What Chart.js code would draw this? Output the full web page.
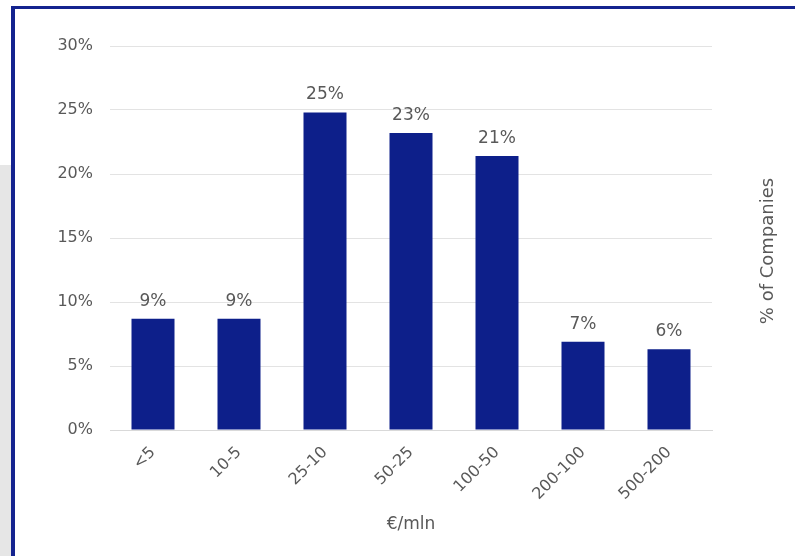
<!DOCTYPE html>
<html>
<head>
<meta charset="utf-8">
<script src="https://cdn.jsdelivr.net/npm/chart.js@4/dist/chart.umd.min.js"></script>
<style>
  html, body { margin: 0; padding: 0; background: #ffffff; }
  body { width: 795px; height: 556px; position: relative; overflow: hidden; }
  #grey { position: absolute; left: 0; top: 165px; width: 11px; height: 391px; background: #e6e6e6; }
  #frame { position: absolute; left: 11px; top: 6px; width: 800px; height: 560px;
           border-left: 4px solid #14238f; border-top: 3px solid #14238f; box-sizing: border-box; }
  #wrap { position: absolute; left: 0; top: 0; width: 795px; height: 556px; }
</style>
</head>
<body>
<div id="grey"></div>
<div id="frame"></div>
<div id="wrap"><canvas id="c" width="795" height="556"></canvas></div>
<script>
const categories = ['<5', '10-5', '25-10', '50-25', '100-50', '200-100', '500-200'];
const shares = [8.7, 8.7, 24.8, 23.2, 21.4, 6.9, 6.3];
const yTicks = [0, 5, 10, 15, 20, 25, 30];
const xTitle = '€/mln';
const yTitle = '% of Companies';

const FONT = 'DejaVu Sans';
const GREY = '#595959';

const valueLabels = {
  id: 'valueLabels',
  afterDatasetsDraw(chart) {
    const ctx = chart.ctx;
    const meta = chart.getDatasetMeta(0);
    ctx.save();
    ctx.font = '17px "' + FONT + '"';
    ctx.fillStyle = GREY;
    ctx.textAlign = 'center';
    ctx.textBaseline = 'bottom';
    meta.data.forEach((bar, i) => {
      ctx.fillText(Math.round(shares[i]) + '%', bar.x, bar.y - 9);
    });
    ctx.restore();
  }
};

const rightTitle = {
  id: 'rightTitle',
  afterDraw(chart) {
    const ctx = chart.ctx;
    const a = chart.chartArea;
    ctx.save();
    ctx.translate(768, (a.top + a.bottom) / 2 + 13);
    ctx.rotate(-Math.PI / 2);
    ctx.font = '18px "' + FONT + '"';
    ctx.fillStyle = GREY;
    ctx.textAlign = 'center';
    ctx.textBaseline = 'middle';
    ctx.fillText(yTitle, 0, 0);
    ctx.restore();
  }
};

new Chart(document.getElementById('c'), {
  type: 'bar',
  data: {
    labels: categories,
    datasets: [{
      data: shares,
      backgroundColor: '#0d1f8a',
      borderWidth: 0,
      barPercentage: 0.5,
      categoryPercentage: 1.0
    }]
  },
  options: {
    responsive: false,
    animation: false,
    layout: { padding: { left: 15, right: 83, top: 46, bottom: 21 } },
    plugins: { legend: { display: false }, tooltip: { enabled: false } },
    scales: {
      x: {
        afterFit(axis) { axis.height = 105; },
        grid: { display: false, drawTicks: false },
        border: { display: true, color: '#d9d9d9', width: 1 },
        ticks: { color: GREY, font: { family: FONT, size: 16 }, minRotation: 45, maxRotation: 45, padding: 13 },
        title: { display: true, text: xTitle, color: GREY, font: { family: FONT, size: 17 }, padding: { top: 0, bottom: 0 } }
      },
      y: {
        min: 0, max: 30,
        afterFit(axis) { axis.width = 95; },
        afterBuildTicks(axis) { axis.ticks = yTicks.map(v => ({ value: v })); },
        grid: { color: '#e3e3e3', drawTicks: false },
        border: { display: false },
        ticks: { color: GREY, font: { family: FONT, size: 16 }, padding: 17, callback: v => v + '%' }
      }
    }
  },
  plugins: [valueLabels, rightTitle]
});
</script>
</body>
</html>
